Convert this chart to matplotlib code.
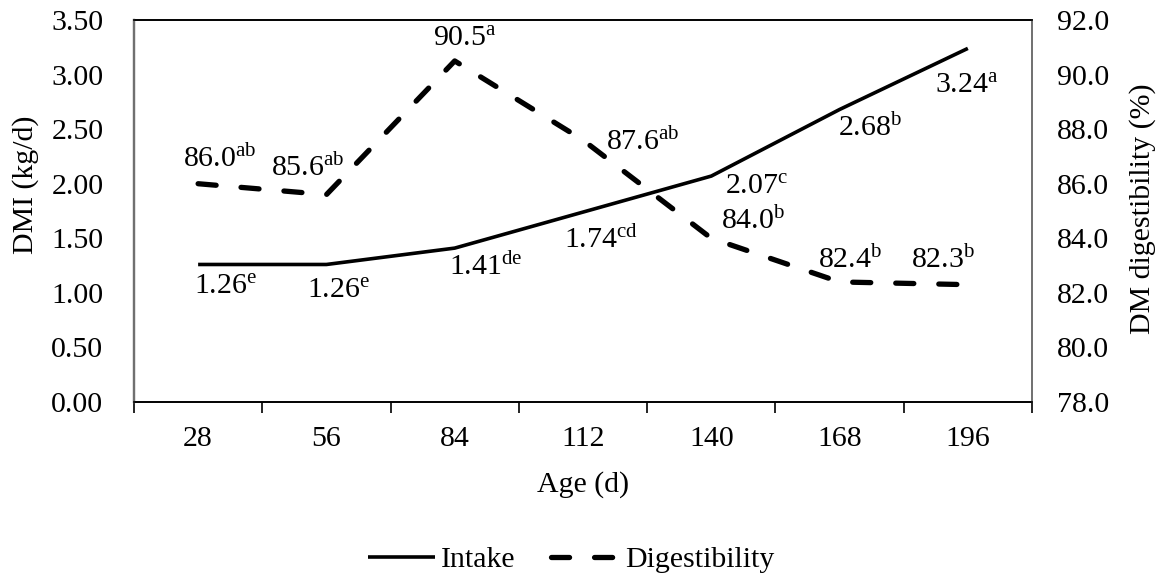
import matplotlib
matplotlib.use("Agg")
import matplotlib.pyplot as plt
import numpy as np

plt.rcParams['font.family'] = ['Liberation Serif', 'DejaVu Serif']
plt.rcParams['mathtext.fontset'] = 'custom'
plt.rcParams['mathtext.rm'] = 'Liberation Serif'
plt.rcParams['mathtext.it'] = 'Liberation Serif'
plt.rcParams['lines.scale_dashes'] = False

# data
ages = ['28', '56', '84', '112', '140', '168', '196']
intake = [1.26, 1.26, 1.41, 1.74, 2.07, 2.68, 3.24]
intake_sup = ['e', 'e', 'de', 'cd', 'c', 'b', 'a']
digest = [86.0, 85.6, 90.5, 87.6, 84.0, 82.4, 82.3]
digest_sup = ['ab', 'ab', 'a', 'ab', 'b', 'b', 'b']

# label offsets in pixels (dx right, dy up) from each point
intake_off = [(27, -22), (12, -26), (31, -19), (18, -28), (45, -11), (31, -19), (-1, -37)]
digest_off = [(22, 25), (-19, 27), (10, 22), (60, -2), (42, 17), (11, 22), (-25, 25)]

FS = 21.5
x = np.arange(len(ages))

fig = plt.figure(figsize=(11.64, 5.80), dpi=100)
ax = fig.add_axes([0.1151, 0.3069, 0.7715, 0.6586])
ax2 = ax.twinx()

l1, = ax.plot(x, intake, color='black', lw=2.6, solid_capstyle='butt',
              solid_joinstyle='round', label='Intake')
l2, = ax2.plot(x, digest, color='black', lw=3.8, dashes=(13, 18),
               dash_capstyle='round', label='Digestibility')

ax.set_xlim(-0.5, 6.5)
ax.set_ylim(0, 3.5)
ax2.set_ylim(78, 92)
yl = np.arange(0, 3.51, 0.5)
ax.set_yticks(yl)
ax.set_yticklabels([f'{v:.2f}' for v in yl])
yr = np.arange(78, 92.1, 2)
ax2.set_yticks(yr)
ax2.set_yticklabels([f'{v:.1f}' for v in yr])

ax.set_xticks(x)
ax.set_xticklabels(ages)
ax.set_xticks(np.arange(-0.5, 6.6, 1), minor=True)
ax.tick_params(axis='x', which='major', length=0, pad=17, labelsize=FS)
ax.tick_params(axis='x', which='minor', length=8, direction='out', width=1.2)
ax.tick_params(axis='y', length=0, labelsize=FS, pad=22)
ax2.tick_params(axis='y', length=0, labelsize=FS, pad=18)

for a in (ax, ax2):
    a.spines['left'].set_color('#707070')
    a.spines['right'].set_color('#707070')
    a.spines['left'].set_linewidth(1.6)
    a.spines['right'].set_linewidth(1.2)
    a.spines['top'].set_linewidth(1.2)
    a.spines['bottom'].set_linewidth(1.2)

fig.text(26 / 1164, 1 - 185 / 580, 'DMI (kg/d)', rotation=90, ha='center', va='center', fontsize=FS)
fig.text(1143 / 1164, 1 - 209 / 580, 'DM digestibility (%)', rotation=90, ha='center', va='center', fontsize=FS)
fig.text(583 / 1164, 1 - 485 / 580, 'Age (d)', ha='center', va='center', fontsize=FS)

for i in range(len(x)):
    ax.annotate(f'{intake[i]:.2f}' + r'$^{\mathrm{' + intake_sup[i] + '}}$',
                (x[i], intake[i]), xytext=intake_off[i], textcoords='offset pixels',
                ha='center', va='center', fontsize=FS)
    ax2.annotate(f'{digest[i]:.1f}' + r'$^{\mathrm{' + digest_sup[i] + '}}$',
                 (x[i], digest[i]), xytext=digest_off[i], textcoords='offset pixels',
                 ha='center', va='center', fontsize=FS)

fig.legend([l1, l2], ['Intake', 'Digestibility'], loc='center',
           bbox_to_anchor=(571 / 1164, 1 - 560 / 580), ncol=2, frameon=False, fontsize=FS,
           handlelength=2.25, handletextpad=0.2, columnspacing=1.2)

fig.savefig('out.png', dpi=100)
